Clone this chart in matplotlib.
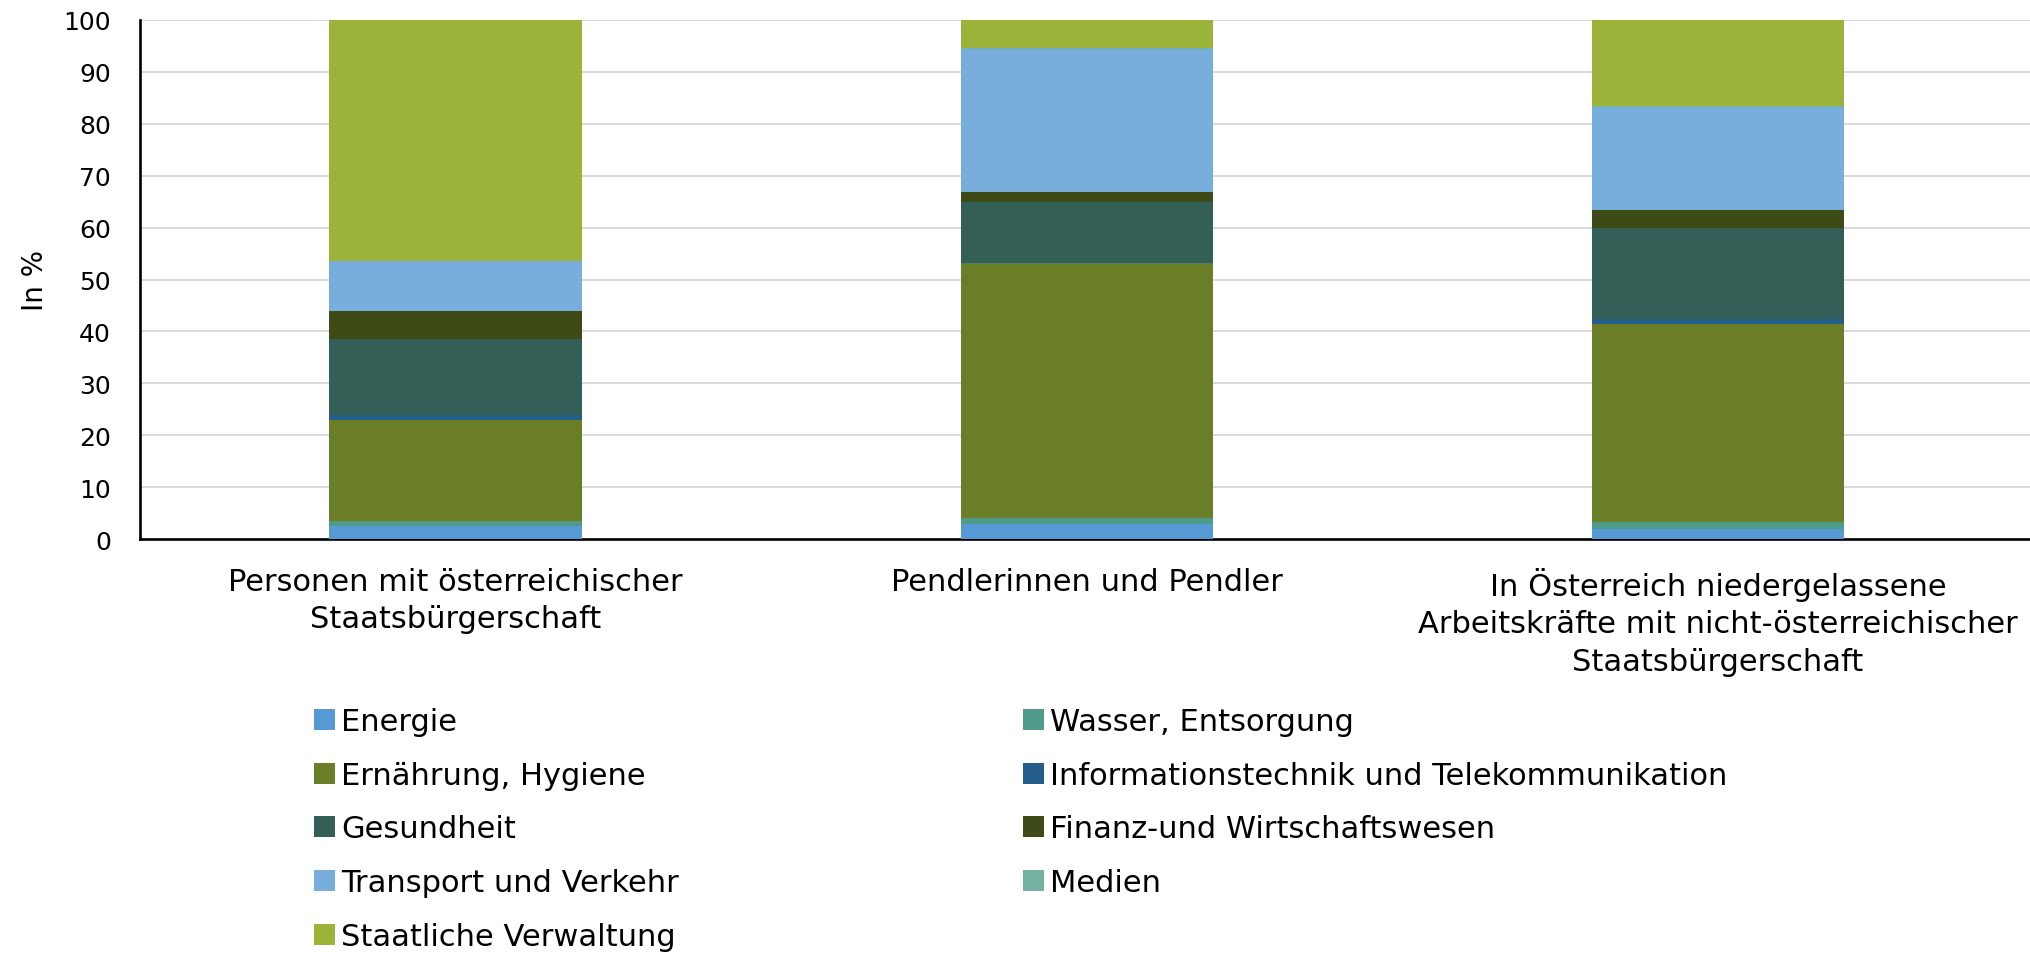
"""Stacked bar chart: Beschäftigte in kritischer Infrastruktur nach Gruppe."""
import matplotlib
matplotlib.use("Agg")
import matplotlib.pyplot as plt
from matplotlib.patches import Patch
import numpy as np

# categories (x axis)
groups = [
    "Personen mit österreichischer\nStaatsbürgerschaft",
    "Pendlerinnen und Pendler",
    "In Österreich niedergelassene\nArbeitskräfte mit nicht-österreichischer\nStaatsbürgerschaft",
]

# series in stacking order (bottom -> top), values in %
sectors = [
    "Energie",
    "Wasser, Entsorgung",
    "Ernährung, Hygiene",
    "Informationstechnik und Telekommunikation",
    "Gesundheit",
    "Finanz-und Wirtschaftswesen",
    "Transport und Verkehr",
    "Medien",
    "Staatliche Verwaltung",
]
energie = [2.5, 2.9, 2.0]
wasser = [1.0, 1.2, 1.25]
ernaehrung = [19.4, 49.0, 38.25]
info = [0.9, 0.3, 0.9]
gesundheit = [14.8, 11.6, 17.6]
finanz = [5.3, 1.9, 3.4]
transport = [9.6, 27.6, 19.9]
medien = [0.1, 0.2, 0.1]
staat = [46.4, 5.3, 16.6]
values = [energie, wasser, ernaehrung, info, gesundheit, finanz, transport, medien, staat]

colors = ["#559AD4", "#4F9B8A", "#6A7D27", "#245E8C", "#345F56",
          "#3F4B17", "#78AEDB", "#72B2A2", "#9AB338"]

plt.rcParams["font.family"] = ["DejaVu Sans"]

fig = plt.figure(figsize=(20.31, 9.54), dpi=100)
ax = fig.add_axes([140 / 2031, 1 - 540 / 954, 1 - 140 / 2031, (540 - 21) / 954])

x = np.arange(len(groups))
bottom = np.zeros(len(groups))
for name, vals, col in zip(sectors, values, colors):
    ax.bar(x, vals, width=0.40, bottom=bottom, color=col, label=name,
           linewidth=0, zorder=3)
    bottom += np.array(vals)

ax.set_xlim(-0.5, 2.496)
ax.set_ylim(0, 100)
ax.set_yticks(np.arange(0, 101, 10))
ax.yaxis.grid(True, color="#D9D9D9", linewidth=1.4, zorder=0)
ax.set_axisbelow(True)

ax.set_xticks(x)
ax.set_xticklabels(groups, fontsize=22, linespacing=1.37)
ax.tick_params(axis="x", length=0, pad=20)
ax.tick_params(axis="y", length=0, pad=21, labelsize=18)

for side in ["top", "right"]:
    ax.spines[side].set_visible(False)
for side in ["left", "bottom"]:
    ax.spines[side].set_color("black")
    ax.spines[side].set_linewidth(1.9)

ax.set_ylabel("In %", fontsize=20)
ax.yaxis.set_label_coords(-0.048, 0.5)

# legend: two columns, read row-wise
handles = [Patch(facecolor=c, edgecolor="none") for c in colors]
legend_kw = dict(frameon=False, fontsize=22, handlelength=0.68, handleheight=0.68,
                 handletextpad=0.2, labelspacing=0.81, borderpad=0,
                 borderaxespad=0, loc="upper left")
left_idx = [0, 2, 4, 6, 8]
right_idx = [1, 3, 5, 7]
leg1 = fig.legend([handles[i] for i in left_idx], [sectors[i] for i in left_idx],
                  bbox_to_anchor=(314 / 2031, 1 - 708 / 954), **legend_kw)
leg2 = fig.legend([handles[i] for i in right_idx], [sectors[i] for i in right_idx],
                  bbox_to_anchor=(1023 / 2031, 1 - 708 / 954), **legend_kw)

fig.savefig("out.png", dpi=100)
